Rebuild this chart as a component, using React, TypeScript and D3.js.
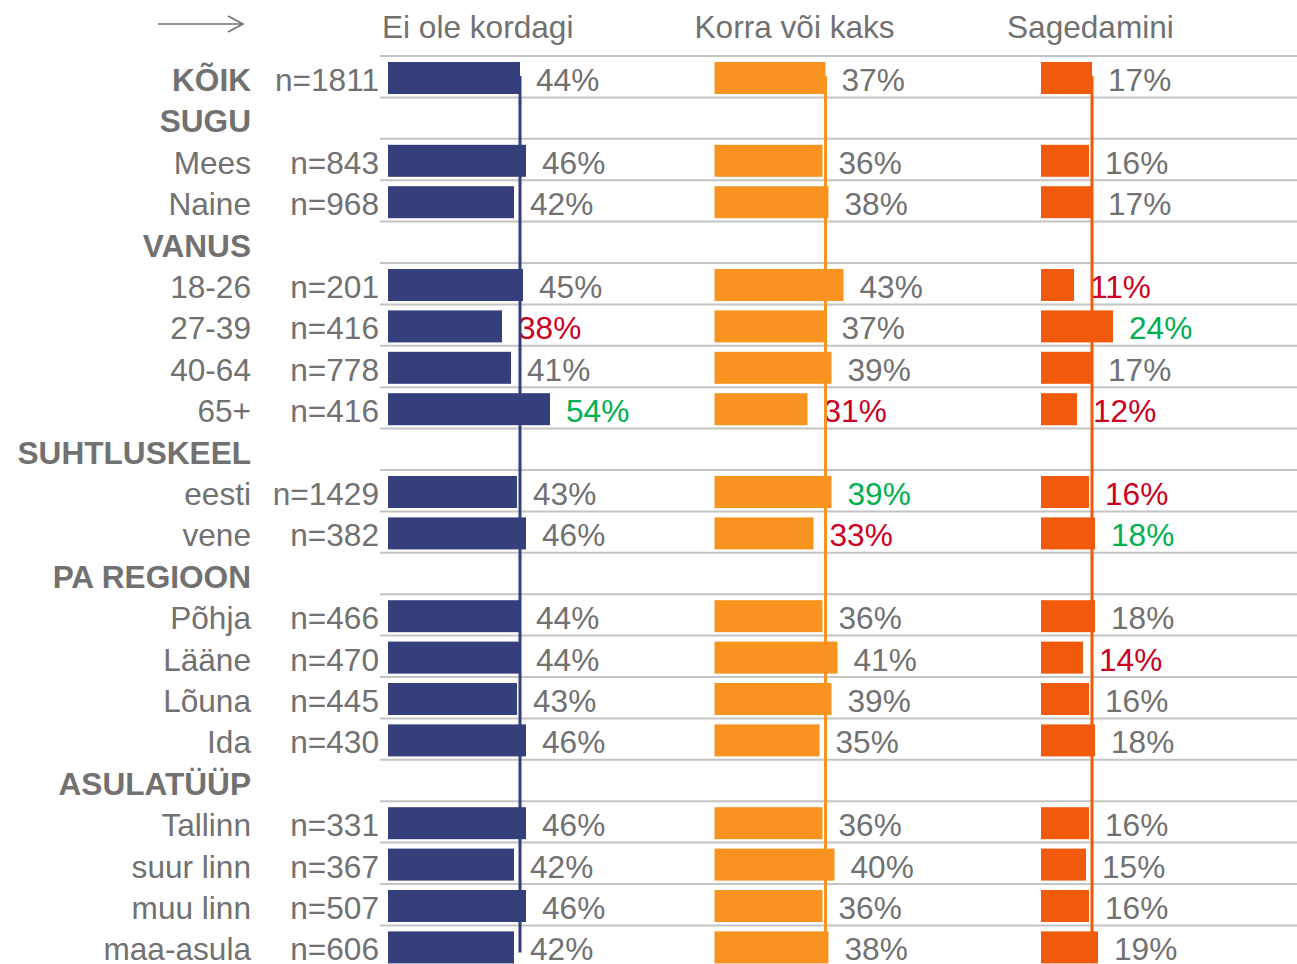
import * as d3 from "d3";

// rows: group headers have no n / values
const rowLabels = [
  "KÕIK", "SUGU", "Mees", "Naine", "VANUS", "18-26", "27-39", "40-64", "65+",
  "SUHTLUSKEEL", "eesti", "vene", "PA REGIOON", "Põhja", "Lääne", "Lõuna", "Ida",
  "ASULATÜÜP", "Tallinn", "suur linn", "muu linn", "maa-asula",
];
const boldRows = ["KÕIK", "SUGU", "VANUS", "SUHTLUSKEEL", "PA REGIOON", "ASULATÜÜP"];
const sampleSizes = [
  1811, null, 843, 968, null, 201, 416, 778, 416,
  null, 1429, 382, null, 466, 470, 445, 430,
  null, 331, 367, 507, 606,
];
const neverValues = [44, null, 46, 42, null, 45, 38, 41, 54, null, 43, 46, null, 44, 44, 43, 46, null, 46, 42, 46, 42];
const onceTwiceValues = [37, null, 36, 38, null, 43, 37, 39, 31, null, 39, 33, null, 36, 41, 39, 35, null, 36, 40, 36, 38];
const oftenValues = [17, null, 16, 17, null, 11, 24, 17, 12, null, 16, 18, null, 18, 14, 16, 18, null, 16, 15, 16, 19];
// label tone: g = gray, r = significantly lower, u = significantly higher
const neverTone = "g.gg.grgu.gg.gggg.gggg";
const onceTwiceTone = "g.gg.gggr.ur.gggg.gggg";
const oftenTone = "g.gg.rugr.ru.grgg.gggg";

const seriesNames = ["Ei ole kordagi", "Korra või kaks", "Sagedamini"];
const seriesColors = ["#343f7b", "#f7931e", "#f15a0a"];

const toneColors: Record<string, string> = { g: "#717171", r: "#cc0022", u: "#00b050" };
const textGray = "#717171";
const font = "'Liberation Sans', Arial, sans-serif";
const fs = 31.6;

const W = 1297;
const H = 964;
const rowStep = 41.4;
const top = 56;

export default function App() {
  const series = [
    { name: seriesNames[0], values: neverValues, tone: neverTone, color: seriesColors[0] },
    { name: seriesNames[1], values: onceTwiceValues, tone: onceTwiceTone, color: seriesColors[1] },
    { name: seriesNames[2], values: oftenValues, tone: oftenTone, color: seriesColors[2] },
  ];

  const y = d3.scaleBand<string>()
    .domain(rowLabels)
    .range([top, top + rowLabels.length * rowStep])
    .padding(0);
  const panel = d3.scalePoint<string>()
    .domain(seriesNames)
    .range([388, 1041]);
  const x = d3.scaleLinear().domain([0, 100]).range([0, 300]);
  const headerShift = [-6, -20, -34];

  const barTop = (r: string) => (y(r) ?? 0) + 6;
  const barH = 32;
  const mid = (r: string) => (y(r) ?? 0) + 24;
  const lastRow = rowLabels[rowLabels.length - 1];

  return (
    <div style={{ position: "absolute", left: 0, top: 0 }}>
      <svg width={W} height={H} style={{ display: "block", fontFamily: font }}>
        <rect width={W} height={H} fill="#fff" />
        {/* arrow */}
        <g stroke="#6f6f6f" strokeWidth={1.6} fill="none">
          <line x1={158} y1={24} x2={243} y2={24} />
          <polyline points="228,16 243,24 228,32" />
        </g>
        {/* grid lines */}
        {d3.range(rowLabels.length + 1).map((i) => (
          <line key={i} x1={380} x2={W} y1={top + i * rowStep} y2={top + i * rowStep}
            stroke="#c4c4c4" strokeWidth={2} />
        ))}
        {/* headers */}
        {series.map((s, k) => (
          <text key={s.name} x={(panel(s.name) ?? 0) + headerShift[k]} y={38}
            fontSize={fs} fill={textGray}>{s.name}</text>
        ))}
        {/* row labels */}
        {rowLabels.map((r, i) => (
          <g key={r}>
            <text x={251} y={mid(r)} textAnchor="end" dominantBaseline="central"
              fontSize={fs} fontWeight={boldRows.includes(r) ? "bold" : "normal"} fill={textGray}>{r}</text>
            {sampleSizes[i] != null && (
              <text x={379} y={mid(r)} textAnchor="end" dominantBaseline="central"
                fontSize={fs} fill={textGray}>n={sampleSizes[i]}</text>
            )}
          </g>
        ))}
        {/* bars */}
        {series.map((s) => {
          const x0 = panel(s.name) ?? 0;
          return (
            <g key={s.name}>
              {rowLabels.map((r, i) => {
                const v = s.values[i];
                if (v == null) return null;
                return (
                  <g key={r}>
                    <rect x={x0} y={barTop(r)} width={x(v)} height={barH} fill={s.color} />
                    <text x={x0 + x(v) + 16} y={mid(r)} dominantBaseline="central" fontSize={fs}
                      fill={toneColors[s.tone[i]]}>{v}%</text>
                  </g>
                );
              })}
              <line x1={x0 + x(s.values[0] as number)} x2={x0 + x(s.values[0] as number)}
                y1={barTop(rowLabels[0]) + 14} y2={barTop(lastRow) + 21}
                stroke={s.color} strokeWidth={3} />
            </g>
          );
        })}
      </svg>
    </div>
  );
}
